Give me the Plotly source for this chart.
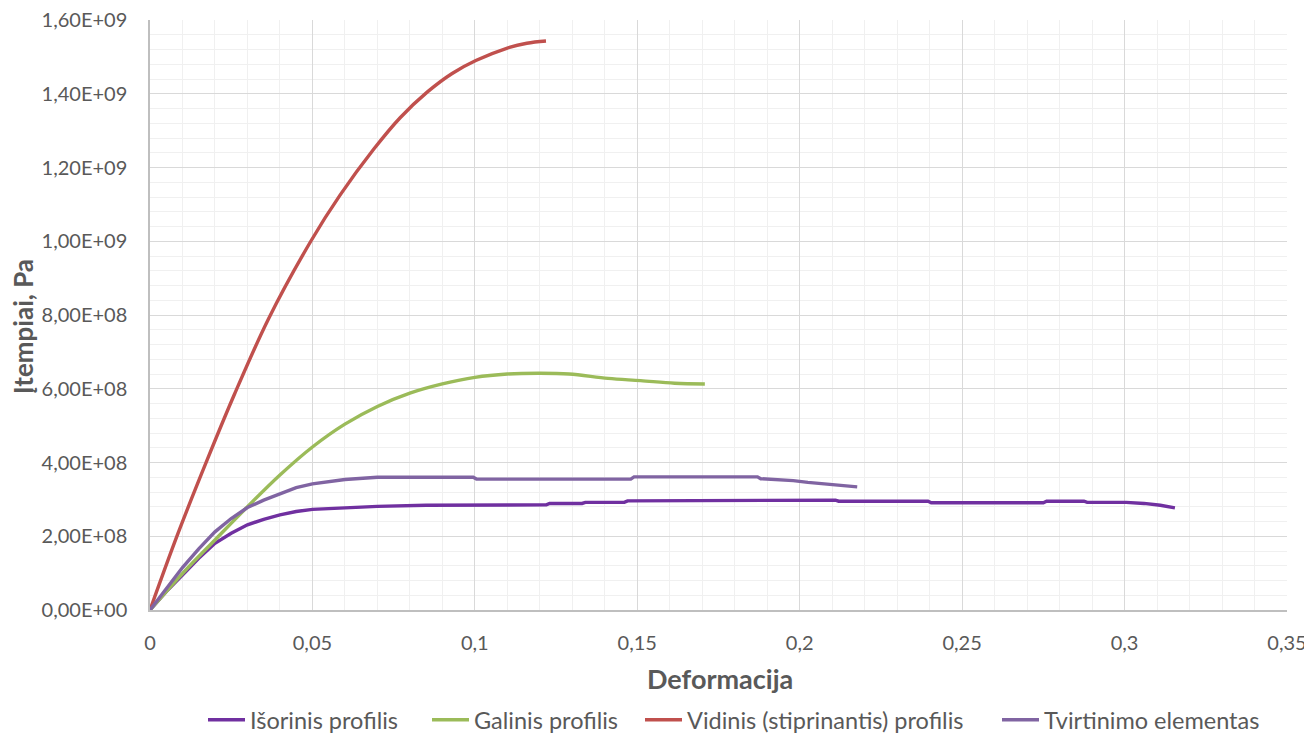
import plotly.graph_objects as go

# ---- data ----
series_names = ["Išorinis profilis", "Galinis profilis", "Vidinis (stiprinantis) profilis", "Tvirtinimo elementas"]
series_colors = ["#7030A0", "#9BBB59", "#C0504D", "#8064A2"]

isorinis_x = [0, 0.005, 0.01, 0.015, 0.02, 0.025, 0.03, 0.035, 0.04, 0.045, 0.05, 0.06, 0.07, 0.085, 0.1,
              0.122, 0.123, 0.133, 0.134, 0.146, 0.147, 0.17, 0.171, 0.211, 0.212, 0.2395, 0.2405,
              0.275, 0.276, 0.2875, 0.2885, 0.3005, 0.306, 0.311, 0.3155]
isorinis_y = [0, 0.50e8, 0.95e8, 1.40e8, 1.81e8, 2.08e8, 2.31e8, 2.46e8, 2.58e8, 2.67e8, 2.73e8, 2.78e8,
              2.81e8, 2.84e8, 2.85e8, 2.85e8, 2.89e8, 2.89e8, 2.92e8, 2.92e8, 2.96e8, 2.96e8, 2.98e8,
              2.98e8, 2.95e8, 2.95e8, 2.91e8, 2.91e8, 2.95e8, 2.95e8, 2.92e8, 2.92e8, 2.89e8, 2.84e8, 2.77e8]

galinis_x = [0, 0.01, 0.02, 0.03, 0.04, 0.05, 0.06, 0.07, 0.08, 0.09, 0.1, 0.11, 0.12, 0.129, 0.141,
             0.151, 0.1615, 0.1708]
galinis_y = [0, 0.99e8, 1.90e8, 2.80e8, 3.66e8, 4.42e8, 5.04e8, 5.52e8, 5.88e8, 6.13e8, 6.31e8, 6.40e8,
             6.42e8, 6.40e8, 6.28e8, 6.22e8, 6.15e8, 6.13e8]

vidinis_x = [0, 0.0085, 0.0175, 0.026, 0.0365, 0.0495, 0.0585, 0.0689, 0.077, 0.0854, 0.093, 0.1003,
             0.11, 0.116, 0.1219]
vidinis_y = [0, 2.05e8, 4.05e8, 5.85e8, 7.9e8, 1.0e9, 1.125e9, 1.25e9, 1.335e9, 1.405e9, 1.455e9, 1.49e9,
             1.524e9, 1.537e9, 1.543e9]

tvirt_x = [0, 0.005, 0.01, 0.015, 0.02, 0.025, 0.03, 0.035, 0.04, 0.045, 0.05, 0.06, 0.07, 0.0995, 0.1005,
           0.148, 0.149, 0.187, 0.188, 0.198, 0.2025, 0.211, 0.2177]
tvirt_y = [0, 0.58e8, 1.15e8, 1.66e8, 2.12e8, 2.48e8, 2.78e8, 2.98e8, 3.16e8, 3.32e8, 3.42e8, 3.54e8,
           3.60e8, 3.60e8, 3.55e8, 3.55e8, 3.61e8, 3.61e8, 3.56e8, 3.51e8, 3.46e8, 3.40e8, 3.34e8]

x_tickvals = [0, 0.05, 0.1, 0.15, 0.2, 0.25, 0.3, 0.35]
x_ticktext = ["0", "0,05", "0,1", "0,15", "0,2", "0,25", "0,3", "0,35"]
y_tickvals = [0, 2e8, 4e8, 6e8, 8e8, 1e9, 1.2e9, 1.4e9, 1.6e9]
y_ticktext = ["0,00E+00", "2,00E+08", "4,00E+08", "6,00E+08", "8,00E+08",
              "1,00E+09", "1,20E+09", "1,40E+09", "1,60E+09"]

x_title = "Deformacija"
y_title = "Įtempiai, Pa"

# ---- figure geometry (the page body adds an 8px offset) ----
OFF = 8
FONT = "Lato, 'Open Sans', sans-serif"
TXT = "#595959"
W, H = 1312 - OFF, 736 - OFF
PLOT_L, PLOT_R, PLOT_T, PLOT_B = 150 - OFF, 1287 - OFF, 20 - OFF, 610 - OFF
ML, MR, MT, MB = PLOT_L, W - PLOT_R, PLOT_T, H - PLOT_B
PW = PLOT_R - PLOT_L
PH = PLOT_B - PLOT_T


def px_x(px):
    return (px - OFF - PLOT_L) / PW


def px_y(py):
    return (PLOT_B - (py - OFF)) / PH


xs = [isorinis_x, galinis_x, vidinis_x, tvirt_x]
ys = [isorinis_y, galinis_y, vidinis_y, tvirt_y]
shapes = ["linear", "spline", "spline", "linear"]
legend_ids = ["legend", "legend2", "legend3", "legend4"]
legend_px = [208, 432, 645, 1002]   # left pixel of each legend key in the reference

fig = go.Figure()
for name, color, x, y, lid, shp in zip(series_names, series_colors, xs, ys, legend_ids, shapes):
    line = dict(color=color, width=3.4, shape=shp)
    if shp == "spline":
        line["smoothing"] = 1.0
    fig.add_trace(go.Scatter(x=x, y=y, name=name, mode="lines", legend=lid, line=line))

legend_layout = {}
for lid, px in zip(legend_ids, legend_px):
    legend_layout[lid] = dict(
        x=px_x(px - 5), xanchor="left",
        y=px_y(720), yanchor="middle",
        orientation="h", bgcolor="rgba(0,0,0,0)", borderwidth=0,
        font=dict(family=FONT, size=23.5, color=TXT),
        itemwidth=37,
    )

fig.update_layout(
    width=W, height=H,
    margin=dict(l=ML, r=MR, t=MT, b=MB, autoexpand=False),
    paper_bgcolor="white", plot_bgcolor="white",
    font=dict(family=FONT, color=TXT, size=20),
    showlegend=True,
    annotations=[
        dict(text=x_title, xref="paper", yref="paper", x=px_x(720), y=px_y(678),
             showarrow=False, xanchor="center", yanchor="middle",
             font=dict(family=FONT, size=27, color=TXT, weight="bold")),
        dict(text=y_title, xref="paper", yref="paper", x=px_x(23), y=px_y(326),
             showarrow=False, xanchor="center", yanchor="middle", textangle=-90,
             font=dict(family=FONT, size=26, color=TXT, weight="bold")),
    ],
    **legend_layout,
)

fig.update_xaxes(
    range=[0, 0.35], tickmode="array", tickvals=x_tickvals, ticktext=x_ticktext,
    showgrid=True, gridcolor="#D9D9D9", gridwidth=1,
    minor=dict(dtick=0.01, showgrid=True, gridcolor="#F0F0F0", gridwidth=1),
    zeroline=False, showline=True, linecolor="#BFBFBF", linewidth=1.5,
    ticks="outside", ticklen=14, tickcolor="rgba(0,0,0,0)",
    ticklabeloverflow="allow",
    tickfont=dict(family=FONT, size=20, color=TXT),
)
fig.update_yaxes(
    range=[0, 1.6e9], tickmode="array", tickvals=y_tickvals, ticktext=y_ticktext,
    showgrid=True, gridcolor="#D9D9D9", gridwidth=1,
    minor=dict(dtick=4e7, showgrid=True, gridcolor="#F0F0F0", gridwidth=1),
    zeroline=False, showline=True, linecolor="#BFBFBF", linewidth=1.5,
    ticks="outside", ticklen=17, tickcolor="rgba(0,0,0,0)",
    ticklabeloverflow="allow",
    tickfont=dict(family=FONT, size=20, color=TXT),
)

fig.write_html("out.html")
